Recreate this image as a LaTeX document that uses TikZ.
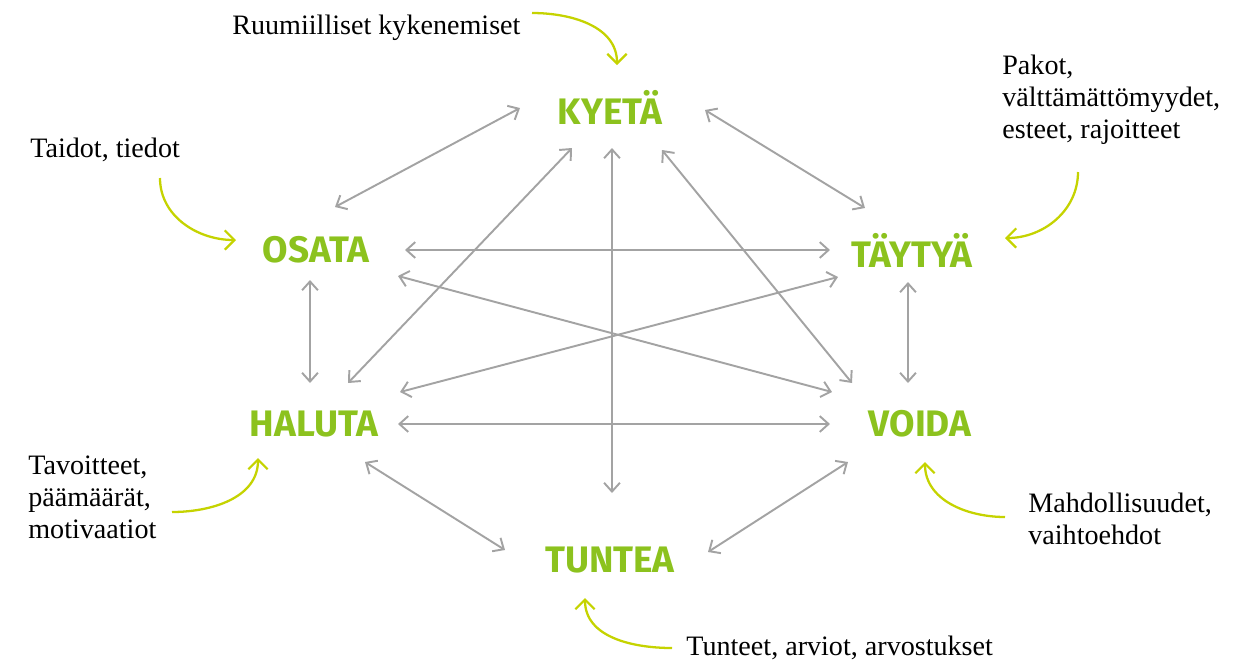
\documentclass[tikz,border=0pt]{standalone}
\usepackage{fontspec}
\setmainfont{Liberation Serif}
\newfontfamily\keyfont{Fira Sans}
\usetikzlibrary{arrows.meta, calc}
\definecolor{keygreen}{HTML}{8CC21E}
\definecolor{hintgreen}{HTML}{C5D300}
\definecolor{linkgray}{HTML}{A3A3A3}

\begin{document}
\begin{tikzpicture}[x=0.02cm, y=-0.02cm,
    keyword/.style={text=keygreen, font=\keyfont\bfseries\fontsize{21}{24}\selectfont, inner sep=0pt},
    note/.style={font=\fontsize{16}{18}\selectfont, inner sep=0pt, align=left},
    link/.style={draw=linkgray, line width=1.1pt, {Straight Barb[length=5pt,width=9pt]}-{Straight Barb[length=5pt,width=9pt]}},
    hint/.style={draw=hintgreen, line width=1.3pt, -{Straight Barb[length=5.5pt,width=11pt]}}]
    \useasboundingbox (0,0) rectangle (1259,664);

    % Draw nodes
    \node[keyword] (kyeta) at (610,107) {KYETÄ};
    \node[keyword] (osata) at (316,250) {OSATA};
    \node[keyword] (taytya) at (912,250) {TÄYTYÄ};
    \node[keyword] (haluta) at (314,424) {HALUTA};
    \node[keyword] (voida) at (920,424) {VOIDA};
    \node[keyword] (tuntea) at (610,560) {TUNTEA};

    % Notes
    \node[note, anchor=west] (ruum) at (232,28) {Ruumiilliset kykenemiset};
    \node[note, anchor=west] (taidot) at (30,150) {Taidot, tiedot};
    \node[note, anchor=north west] (pakot) at (1002,55) {Pakot,\\välttämättömyydet,\\esteet, rajoitteet};
    \node[note, anchor=north west] (tavoit) at (28,456) {Tavoitteet,\\päämäärät,\\motivaatiot};
    \node[note, anchor=north west] (mahd) at (1028,493) {Mahdollisuudet,\\vaihtoehdot};
    \node[note, anchor=west] (tunteet) at (686,648) {Tunteet, arviot, arvostukset};

    % Draw connections
    \draw[link] ($(kyeta)+(-90,1)$) -- ($(osata)+(19,-43)$);
    \draw[link] ($(kyeta)+(95,3)$) -- ($(taytya)+(-47,-42)$);
    \draw[link] ($(osata)+(89,0)$) -- ($(taytya)+(-82,0)$);
    \draw[link] ($(osata)+(-6,30)$) -- ($(haluta)+(-4,-41)$);
    \draw[link] ($(taytya)+(-4,32)$) -- ($(voida)+(-12,-41)$);
    \draw[link] ($(haluta)+(84,0)$) -- ($(voida)+(-90,0)$);
    \draw[link] ($(haluta)+(51,38)$) -- ($(tuntea)+(-105,-10)$);
    \draw[link] ($(voida)+(-72,38)$) -- ($(tuntea)+(98,-8)$);
    \draw[link] ($(kyeta)+(2,41)$) -- ($(tuntea)+(2,-67)$);
    \draw[link] ($(kyeta)+(-38,41)$) -- ($(haluta)+(34,-41)$);
    \draw[link] ($(kyeta)+(52,43)$) -- ($(voida)+(-68,-41)$);
    \draw[link] ($(osata)+(82,26)$) -- ($(voida)+(-88,-32)$);
    \draw[link] ($(taytya)+(-74,27)$) -- ($(haluta)+(86,-32)$);

    % Hints
    \draw[hint] ($(ruum.west)+(300,-15)$) to[out=0, in=90] ($(kyeta)+(7,-42)$);
    \draw[hint] ($(taidot.west)+(130,28)$) to[out=-90, in=180] ($(osata)+(-80,-10)$);
    \draw[hint] ($(pakot.north west)+(76,117)$) to[out=-90, in=0] ($(taytya)+(93,-12)$);
    \draw[hint] ($(tavoit.north west)+(144,56)$) to[out=0, in=-90] ($(haluta)+(-56,34)$);
    \draw[hint] ($(mahd.north west)+(-23,24)$) to[out=180, in=-90] ($(voida)+(5,38)$);
    \draw[hint] ($(tunteet.west)+(-14,0)$) to[out=180, in=-90] ($(tuntea)+(-25,38)$);
\end{tikzpicture}
\end{document}
